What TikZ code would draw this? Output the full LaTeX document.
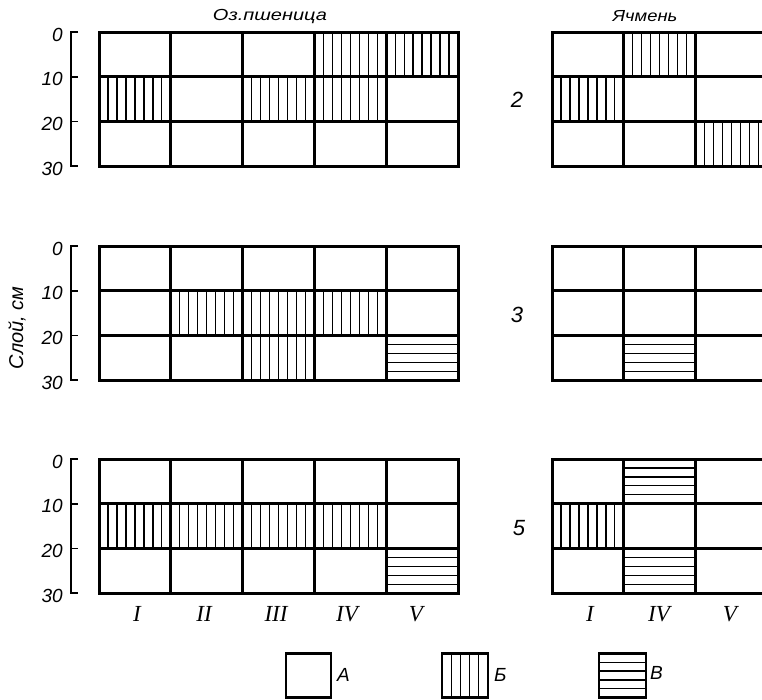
\documentclass[tikz,border=0pt]{standalone}
\usepackage{fontspec}
\setmainfont{Liberation Sans}
\newfontfamily\romfont{Liberation Serif}
\newcommand\myVh[2]{\foreach \k in {1,...,7} \draw[hatchline] ({#1+\k*8.975},{#2}) -- ++(0,44.7);}
\newcommand\myHh[2]{\foreach \k in {1,...,4} \draw[hatchline] ({#1},{#2+\k*8.94}) -- ++(71.8,0);}
\newcommand\myGridL[1]{%
  \draw[gridline] (99,#1) rectangle (458,{#1+134.1});
  \foreach \xx in {170.8,242.6,314.4,386.2} \draw[gridline] (\xx,#1) -- (\xx,{#1+134.1});
  \foreach \dy in {44.7,89.4} \draw[gridline] (99,{#1+\dy}) -- (458,{#1+\dy});}
\newcommand\myGridR[1]{%
  \draw[gridline] (552,#1) rectangle (767.4,{#1+134.1});
  \foreach \xx in {623.8,695.6} \draw[gridline] (\xx,#1) -- (\xx,{#1+134.1});
  \foreach \dy in {44.7,89.4} \draw[gridline] (552,{#1+\dy}) -- (767.4,{#1+\dy});}
\newcommand\myAxis[2]{%
  \draw[axisline] (78,#2) -- (71,#2) -- (71,{#2+134.1}) -- (78,{#2+134.1});
  \draw[axisline] (71,{#2+44.7}) -- (78,{#2+44.7});
  \draw[axisline] (71,{#2+89.4}) -- (78,{#2+89.4});
  \node[numlbl] (#1a) at (63,{#2+2.5}) {0};
  \node[numlbl] (#1b) at (63,{#2+47.2}) {10};
  \node[numlbl] (#1c) at (63,{#2+91.9}) {20};
  \node[numlbl] (#1d) at (63,{#2+136.6}) {30};}
\begin{document}
\begin{tikzpicture}[x=1pt,y=-1pt,
  gridline/.style={line width=3pt},
  hatchline/.style={line width=1.3pt},
  axisline/.style={line width=1.7pt},
  numlbl/.style={anchor=east,inner sep=0pt,font=\fontsize{19}{19}\selectfont\itshape},
  titlelbl/.style={inner sep=0pt,font=\fontsize{16}{16}\selectfont\itshape,transform shape},
  rowlbl/.style={inner sep=0pt,font=\fontsize{22}{22}\selectfont\itshape},
  romlbl/.style={inner sep=0pt,font=\fontsize{23}{23}\selectfont\romfont\itshape},
  leglbl/.style={anchor=west,inner sep=0pt,font=\fontsize{19}{19}\selectfont\itshape},
  legbox/.style={line width=2.8pt}]
\useasboundingbox (0,0) rectangle (762,699);
\clip (0,0) rectangle (762,699);
% hatching, panel 1
\myVh{314.4}{32}\myVh{386.2}{32}\myVh{99}{76.7}\myVh{242.6}{76.7}\myVh{314.4}{76.7}
\myVh{623.8}{32}\myVh{552}{76.7}\myVh{695.6}{121.4}
% panel 2
\myVh{170.8}{290.7}\myVh{242.6}{290.7}\myVh{314.4}{290.7}\myVh{242.6}{335.4}
\myHh{386.2}{335.4}\myHh{623.8}{335.4}
% panel 3
\myVh{99}{503.7}\myVh{170.8}{503.7}\myVh{242.6}{503.7}\myVh{314.4}{503.7}
\myHh{386.2}{548.4}\myHh{623.8}{459}\myHh{623.8}{548.4}\myVh{552}{503.7}
% grids
\myGridL{32}\myGridL{246}\myGridL{459}
\myGridR{32}\myGridR{246}\myGridR{459}
% axes
\myAxis{ax1}{32}\myAxis{ax2}{246}\myAxis{ax3}{459}
\node[inner sep=0pt,rotate=90,font=\fontsize{20}{20}\selectfont\itshape] (ylab) at (17,328) {Слой, см};
% titles
\node[titlelbl,xscale=1.25] (t1) at (270,17) {Оз.пшеница};
\node[titlelbl,xscale=1.15] (t2) at (645,16) {Ячмень};
% row labels
\node[rowlbl] (r2) at (517,100) {2};
\node[rowlbl] (r3) at (517,315) {3};
\node[rowlbl] (r5) at (519,528) {5};
% roman numerals
\node[romlbl] (c1) at (137,614) {I};
\node[romlbl] (c2) at (204,614) {II};
\node[romlbl] (c3) at (276,614) {III};
\node[romlbl] (c4) at (347,614) {IV};
\node[romlbl] (c5) at (416,614) {V};
\node[romlbl] (d1) at (590,614) {I};
\node[romlbl] (d4) at (659,614) {IV};
\node[romlbl] (d5) at (730,614) {V};
% legend
\draw[legbox] (286,653.5) rectangle (331,697.5);
\node[leglbl] (la) at (337,675) {А};
\foreach \xx in {451.2,460.4,469.6,478.8} \draw[hatchline] (\xx,653.5) -- (\xx,697.5);
\draw[legbox] (442,653.5) rectangle (488,697.5);
\node[leglbl] (lb) at (494,675) {Б};
\foreach \yy in {662.3,671.1,679.9,688.7} \draw[hatchline] (599,\yy) -- (646,\yy);
\draw[legbox] (599,653.5) rectangle (646,697.5);
\node[leglbl] (lc) at (650,673) {В};
\end{tikzpicture}
\end{document}
